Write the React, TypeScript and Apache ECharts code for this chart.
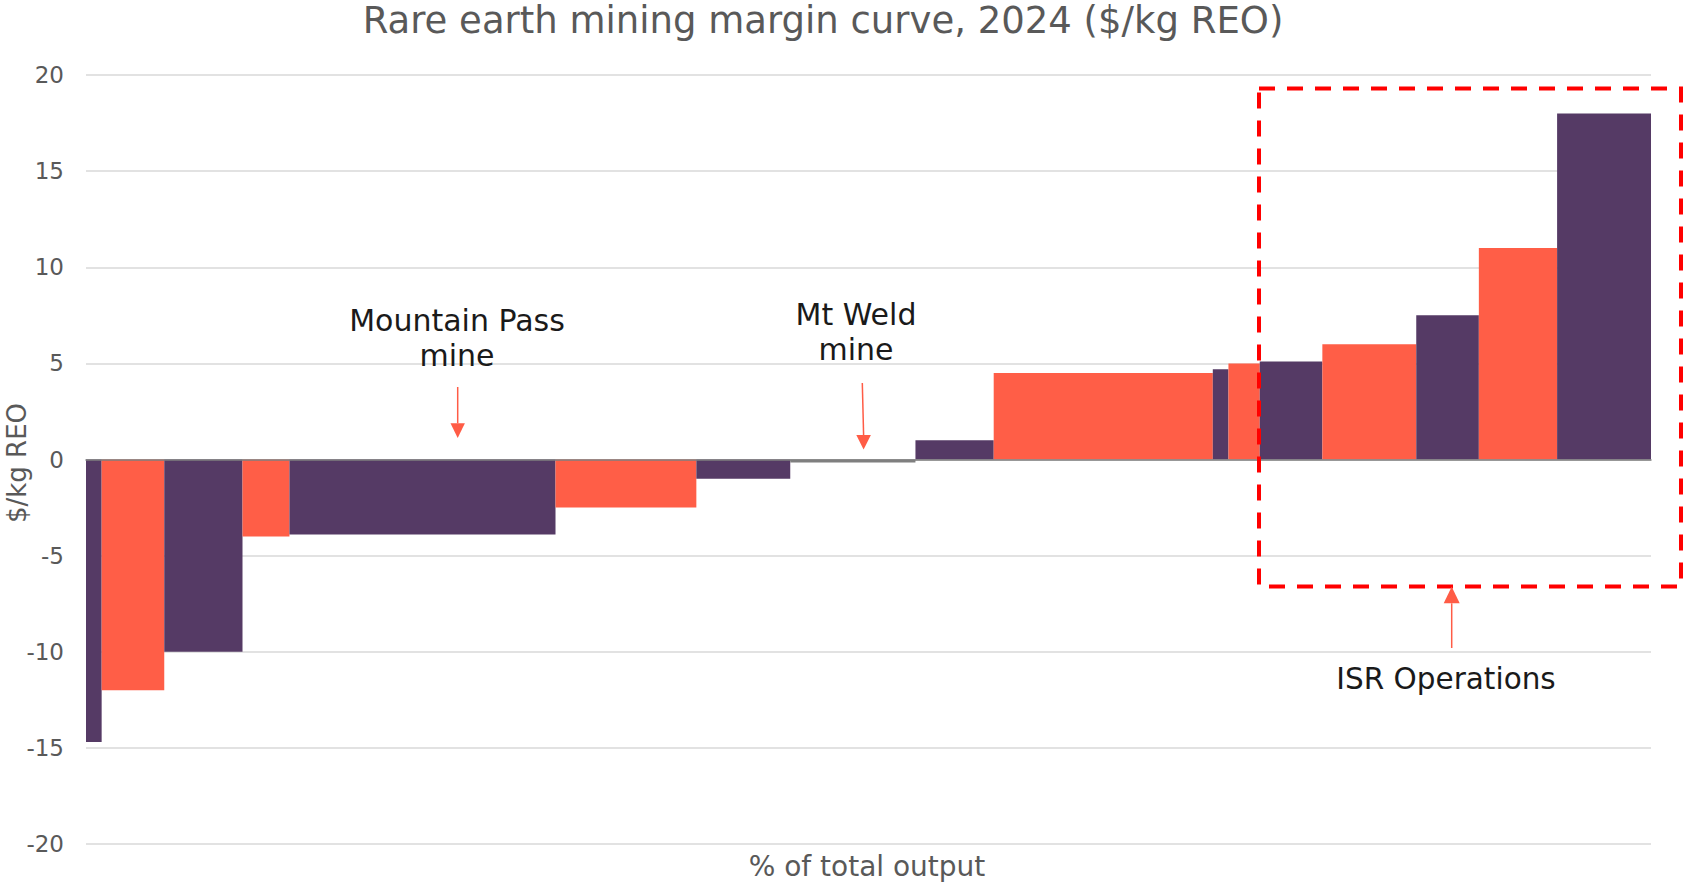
import React, { useEffect, useRef } from "react";
import * as echarts from "echarts";

// % of total output held by each operation (bar widths)
const shares = [1, 4, 5, 3, 17, 9, 6, 8, 5, 14, 1, 2, 4, 6, 4, 5, 6];
// mining margin, $/kg REO (bar heights)
const margins = [-14.7, -12, -10, -4, -3.9, -2.5, -1, -0.15, 1, 4.5, 4.7, 5, 5.1, 6, 7.5, 11, 18];
const barGroups = [
  "purple", "orange", "purple", "orange", "purple", "orange", "purple", "gray",
  "purple", "orange", "purple", "orange", "purple", "orange", "purple", "orange", "purple",
];
const yMin = -20;
const yMax = 20;
const yStep = 5;

const titleText = "Rare earth mining margin curve, 2024 ($/kg REO)";
const xName = "% of total output";
const yName = "$/kg REO";
const notes = ["Mountain Pass\nmine", "Mt Weld\nmine", "ISR Operations"];

const palette: Record<string, string> = { purple: "#553a65", orange: "#ff5e47", gray: "#7f7f7f" };

export default function App() {
  const ref = useRef<HTMLDivElement>(null);
  useEffect(() => {
    const chart = echarts.init(ref.current!, null, { renderer: "svg" });
    let acc = 0;
    const data = shares.map((s, i) => {
      const start = acc;
      acc += s;
      return [start, acc, margins[i], i];
    });
    const FONT = "DejaVu Sans";
    const ARROW = "#ff5c46";
    const txt = (x: number, y: number, text: string, size: number, fill: string, extra: any = {}) => ({
      type: "text",
      x,
      y,
      z: 20,
      ...extra,
      style: {
        text,
        fontSize: size,
        fontFamily: FONT,
        fill,
        textAlign: "center",
        textVerticalAlign: "middle",
        align: "center",
        verticalAlign: "middle",
        ...(extra.style || {}),
      },
    });
    const arrow = (x1: number, y1: number, x2: number, y2: number, hx: number, base: number) => [
      { type: "line", z: 20, shape: { x1, y1, x2, y2: base }, style: { stroke: ARROW, lineWidth: 1.5 } },
      {
        type: "polygon",
        z: 20,
        shape: { points: [[x2 - hx, base], [x2 + hx, base], [x2, y2]] },
        style: { fill: ARROW },
      },
    ];
    chart.setOption({
      animation: false,
      grid: { left: 86, right: 32, top: 75, bottom: 38 },
      xAxis: {
        type: "value",
        min: 0,
        max: 100,
        z: 5,
        axisLabel: { show: false },
        axisTick: { show: false },
        splitLine: { show: false },
        axisLine: { show: true, onZero: true, lineStyle: { color: "#7f7f7f", width: 1.5 } },
      },
      yAxis: {
        type: "value",
        min: yMin,
        max: yMax,
        interval: yStep,
        axisLine: { show: false },
        axisTick: { show: false },
        axisLabel: { fontSize: 23, color: "#595959", fontFamily: FONT, margin: 22 },
        splitLine: { lineStyle: { color: "#d9d9d9", width: 1.5 } },
      },
      series: [
        {
          type: "custom",
          encode: { x: [0, 1], y: 2 },
          data,
          renderItem: (params: any, api: any) => {
            const x0 = api.value(0);
            const x1 = api.value(1);
            const v = api.value(2);
            const idx = api.value(3);
            const p0 = api.coord([x0, 0]);
            const p1 = api.coord([x1, v]);
            return {
              type: "rect",
              shape: {
                x: p0[0],
                y: Math.min(p0[1], p1[1]),
                width: p1[0] - p0[0],
                height: Math.max(Math.abs(p1[1] - p0[1]), 0.5),
              },
              style: { fill: palette[barGroups[idx]] },
            };
          },
        },
      ],
      graphic: [
        txt(823, 20, titleText, 37, "#595959"),
        txt(867, 866, xName, 28, "#595959"),
        txt(17, 463, yName, 26, "#595959", { rotation: Math.PI / 2 }),
        txt(457, 338, notes[0], 30, "#1a1a1a", { style: { lineHeight: 35 } }),
        txt(856, 332, notes[1], 30, "#1a1a1a", { style: { lineHeight: 35 } }),
        txt(1446, 679, notes[2], 29.5, "#1a1a1a"),
        ...arrow(457.7, 387, 457.7, 438, 7.2, 423.3),
        ...arrow(862.3, 383, 863.6, 449.5, 7.3, 435),
        ...arrow(1451.7, 648, 1451.7, 586.7, 8, 603.3),
        {
          type: "rect",
          z: 15,
          shape: { x: 1259, y: 88.6, width: 422, height: 498 },
          style: { fill: "transparent", stroke: "#ff0000", lineWidth: 4, lineDash: [16, 12] },
        },
      ],
    });
    return () => chart.dispose();
  }, []);
  return (
    <div
      ref={ref}
      style={{ position: "fixed", left: 0, top: 0, width: 1683, height: 882, background: "#ffffff" }}
    />
  );
}
